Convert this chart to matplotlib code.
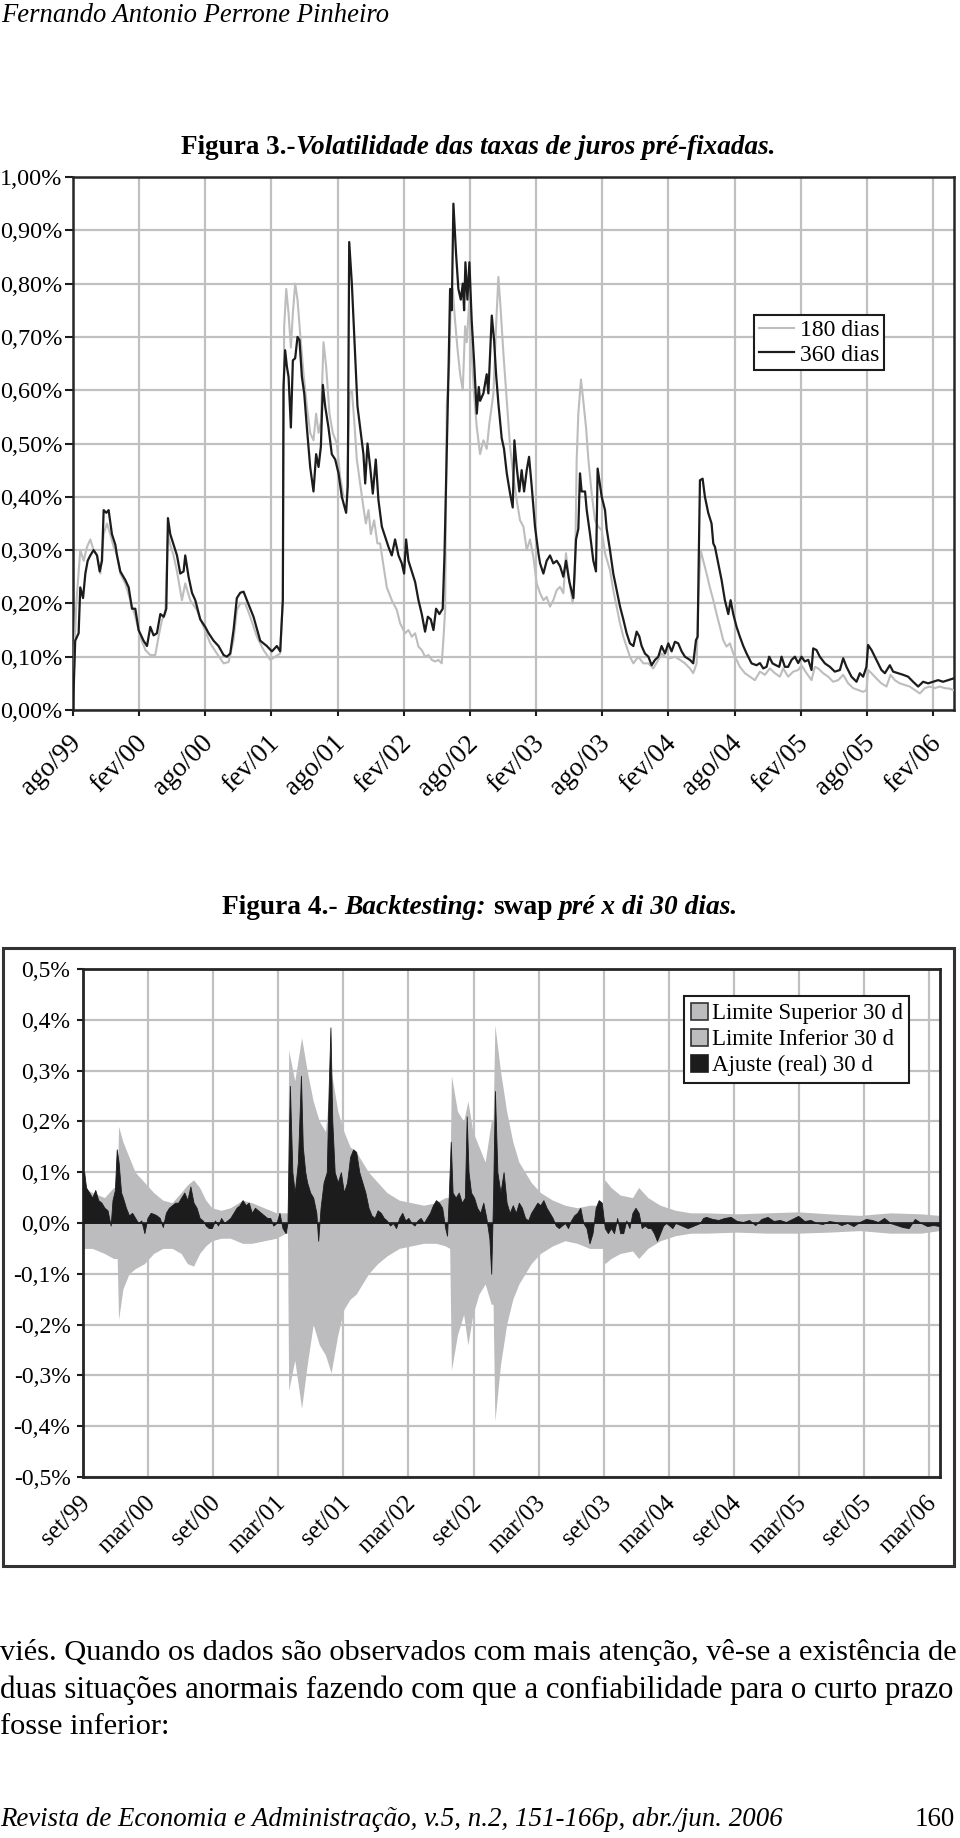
import numpy as np
import matplotlib
matplotlib.use("Agg")
import matplotlib.pyplot as plt
from matplotlib.transforms import ScaledTranslation
from matplotlib.patches import Rectangle, Patch

W, H = 960, 1838
FONT = "Liberation Serif"
plt.rcParams["font.family"] = [FONT, "DejaVu Serif"]

# ---- Figura 3: volatilidade (meses desde ago/99, valores em %) ----
meses_fig3 = ["ago/99", "fev/00", "ago/00", "fev/01", "ago/01", "fev/02", "ago/02",
              "fev/03", "ago/03", "fev/04", "ago/04", "fev/05", "ago/05", "fev/06"]

v360_x = [0.0, 0.2, 0.51, 0.66, 0.91, 1.12, 1.33, 1.57, 1.87, 2.18, 2.42, 2.63, 2.78, 3.02, 3.23, 3.53, 3.84, 3.99, 4.29, 4.74,
          5.05, 5.35, 5.65, 5.95, 6.40, 6.71, 7.01, 7.31, 7.61, 7.92, 8.22, 8.46, 8.61, 8.82, 9.12, 9.43, 9.73, 10.03, 10.18, 10.48,
          10.79, 11.09, 11.54, 11.99, 12.30, 12.75, 13.20, 13.66, 13.96, 14.26, 14.56, 14.86, 15.17, 15.47, 15.77, 16.37, 16.98, 17.58, 18.04, 18.49,
          18.79, 19.03, 19.09, 19.24, 19.40, 19.55, 19.76, 19.94, 20.15, 20.36, 20.54, 20.76, 20.97, 21.21, 21.51, 21.81, 22.05, 22.27, 22.48, 22.66,
          22.87, 23.17, 23.47, 23.78, 24.08, 24.38, 24.77, 24.92, 25.05, 25.29, 25.50, 25.80, 26.04, 26.34, 26.50, 26.71, 26.95, 27.19, 27.46, 27.70,
          28.01, 28.31, 28.61, 28.91, 29.21, 29.52, 29.82, 30.03, 30.21, 30.42, 30.73, 31.03, 31.33, 31.63, 31.93, 32.18, 32.45, 32.69, 32.93, 33.23,
          33.53, 33.69, 34.05, 34.20, 34.35, 34.50, 34.74, 34.95, 35.17, 35.35, 35.47, 35.59, 35.77, 35.95, 36.16, 36.37, 36.62, 36.80, 36.92, 37.22,
          37.52, 37.67, 37.98, 38.19, 38.37, 38.58, 38.88, 39.09, 39.34, 39.64, 39.88, 40.03, 40.24, 40.48, 40.69, 40.91, 41.15, 41.36, 41.60, 41.90,
          42.21, 42.36, 42.66, 42.96, 43.26, 43.56, 43.87, 44.17, 44.47, 44.71, 45.02, 45.38, 45.62, 45.83, 45.98, 46.13, 46.44, 46.59, 46.89, 47.19,
          47.43, 47.58, 47.95, 48.25, 48.40, 48.70, 49.00, 49.30, 49.61, 49.91, 50.21, 50.51, 50.82, 51.12, 51.36, 51.57, 51.87, 52.18, 52.48, 52.78,
          53.08, 53.38, 53.69, 53.99, 54.29, 54.59, 54.89, 55.20, 55.50, 55.95, 56.25, 56.50, 56.65, 56.74, 56.86, 57.10, 57.31, 57.61, 57.91, 58.07,
          58.22, 58.52, 58.82, 59.12, 59.43, 59.64, 59.88, 60.18, 60.48, 60.79, 61.09, 61.54, 61.99, 62.30, 62.60, 62.90, 63.14, 63.44, 63.75, 64.05,
          64.26, 64.56, 64.86, 65.17, 65.47, 65.77, 66.07, 66.37, 66.68, 66.98, 67.13, 67.43, 67.73, 68.19, 68.64, 69.09, 69.55, 69.85, 70.15, 70.60,
          71.06, 71.36, 71.66, 71.96, 72.11, 72.42, 72.72, 73.02, 73.32, 73.63, 74.08, 74.38, 74.83, 75.29, 75.74, 76.19, 76.65, 77.10, 77.55, 78.01,
          78.46, 78.91, 79.37, 79.82]
v360_y = [0.0, 0.13, 0.144, 0.23, 0.21, 0.256, 0.28, 0.29, 0.30, 0.29, 0.26, 0.28, 0.375, 0.37, 0.375, 0.33, 0.31, 0.29, 0.26, 0.244,
          0.23, 0.19, 0.19, 0.15, 0.13, 0.12, 0.156, 0.14, 0.144, 0.18, 0.175, 0.19, 0.36, 0.33, 0.31, 0.29, 0.256, 0.26, 0.29, 0.25,
          0.22, 0.206, 0.17, 0.156, 0.144, 0.13, 0.12, 0.103, 0.10, 0.106, 0.15, 0.21, 0.22, 0.222, 0.206, 0.175, 0.13, 0.12, 0.11, 0.12,
          0.11, 0.206, 0.606, 0.675, 0.644, 0.625, 0.53, 0.656, 0.66, 0.70, 0.694, 0.625, 0.594, 0.53, 0.456, 0.41, 0.48, 0.456, 0.494, 0.61,
          0.57, 0.53, 0.48, 0.47, 0.444, 0.40, 0.37, 0.42, 0.878, 0.80, 0.706, 0.57, 0.53, 0.48, 0.425, 0.50, 0.456, 0.406, 0.47, 0.394,
          0.344, 0.325, 0.306, 0.29, 0.32, 0.29, 0.275, 0.256, 0.32, 0.28, 0.26, 0.24, 0.206, 0.18, 0.147, 0.175, 0.17, 0.15, 0.19, 0.18,
          0.19, 0.29, 0.63, 0.79, 0.75, 0.95, 0.856, 0.79, 0.77, 0.80, 0.75, 0.84, 0.77, 0.84, 0.73, 0.656, 0.556, 0.606, 0.58, 0.594,
          0.63, 0.594, 0.74, 0.694, 0.63, 0.575, 0.51, 0.49, 0.444, 0.406, 0.38, 0.506, 0.456, 0.41, 0.45, 0.41, 0.45, 0.475, 0.42, 0.344,
          0.294, 0.275, 0.256, 0.28, 0.29, 0.275, 0.28, 0.27, 0.25, 0.28, 0.24, 0.21, 0.32, 0.34, 0.444, 0.41, 0.41, 0.375, 0.33, 0.28,
          0.26, 0.453, 0.40, 0.375, 0.34, 0.30, 0.256, 0.225, 0.194, 0.17, 0.144, 0.125, 0.12, 0.147, 0.138, 0.12, 0.106, 0.10, 0.084, 0.094,
          0.10, 0.12, 0.106, 0.125, 0.11, 0.128, 0.125, 0.11, 0.10, 0.094, 0.0875, 0.131, 0.1375, 0.27, 0.431, 0.434, 0.40, 0.37, 0.35, 0.3125,
          0.306, 0.275, 0.244, 0.206, 0.18, 0.206, 0.18, 0.156, 0.1375, 0.12, 0.106, 0.0875, 0.084, 0.088, 0.078, 0.081, 0.10, 0.0875, 0.084, 0.081,
          0.10, 0.081, 0.081, 0.094, 0.10, 0.088, 0.10, 0.091, 0.094, 0.075, 0.1156, 0.1125, 0.10, 0.0875, 0.081, 0.072, 0.075, 0.097, 0.081, 0.0625,
          0.053, 0.069, 0.0625, 0.081, 0.122, 0.1125, 0.10, 0.0875, 0.075, 0.069, 0.084, 0.072, 0.069, 0.066, 0.0625, 0.053, 0.044, 0.053, 0.05, 0.053,
          0.056, 0.053, 0.056, 0.059]

v180_x = [0.0, 0.15, 0.30, 0.66, 0.97, 1.27, 1.57, 1.87, 2.18, 2.48, 2.78, 3.08, 3.38, 3.69, 3.99, 4.29, 4.74, 5.20, 5.65, 6.10,
          6.56, 7.01, 7.46, 7.76, 8.07, 8.37, 8.61, 8.82, 9.12, 9.43, 9.88, 10.18, 10.63, 11.24, 11.84, 12.45, 13.05, 13.66, 14.11, 14.56,
          14.86, 15.17, 15.62, 16.07, 16.68, 17.28, 17.89, 18.34, 18.79, 19.03, 19.15, 19.34, 19.55, 19.76, 19.94, 20.15, 20.36, 20.60, 20.91, 21.21,
          21.51, 21.81, 22.05, 22.27, 22.48, 22.72, 22.96, 23.26, 23.56, 23.93, 24.23, 24.53, 24.83, 25.08, 25.29, 25.50, 25.74, 26.04, 26.34, 26.56,
          26.80, 27.01, 27.31, 27.61, 27.85, 28.16, 28.46, 28.91, 29.37, 29.67, 30.12, 30.42, 30.73, 31.03, 31.33, 31.63, 31.93, 32.24, 32.54, 32.84,
          33.14, 33.44, 33.59, 33.75, 33.90, 34.14, 34.26, 34.44, 34.65, 34.86, 35.11, 35.35, 35.56, 35.71, 35.95, 36.16, 36.37, 36.62, 36.92, 37.22,
          37.52, 37.76, 38.13, 38.37, 38.58, 38.79, 39.03, 39.34, 39.64, 39.94, 40.24, 40.54, 40.85, 41.15, 41.45, 41.75, 42.05, 42.36, 42.66, 42.96,
          43.26, 43.56, 43.87, 44.17, 44.47, 44.71, 44.92, 45.32, 45.53, 45.68, 45.83, 46.07, 46.28, 46.53, 46.74, 47.04, 47.34, 47.64, 47.95, 48.25,
          48.70, 49.00, 49.30, 49.61, 49.91, 50.21, 50.51, 50.82, 51.27, 51.72, 52.18, 52.63, 53.08, 53.38, 53.69, 54.14, 54.59, 55.05, 55.50, 55.95,
          56.25, 56.56, 56.71, 56.92, 57.16, 57.46, 57.76, 58.07, 58.37, 58.67, 58.97, 59.27, 59.58, 59.88, 60.18, 60.48, 60.94, 61.39, 61.84, 62.30,
          62.75, 63.20, 63.66, 64.11, 64.41, 64.86, 65.32, 65.77, 66.07, 66.53, 66.98, 67.28, 67.58, 68.04, 68.49, 68.94, 69.40, 69.85, 70.30, 70.76,
          71.21, 71.66, 71.96, 72.11, 72.42, 72.87, 73.32, 73.78, 74.14, 74.53, 74.98, 75.44, 75.89, 76.34, 76.80, 77.25, 77.70, 78.16, 78.61, 79.06,
          79.52, 79.82]
v180_y = [0.0, 0.12, 0.20, 0.30, 0.28, 0.306, 0.32, 0.30, 0.29, 0.256, 0.33, 0.35, 0.33, 0.306, 0.29, 0.256, 0.2375, 0.206, 0.175, 0.1375,
          0.1125, 0.103, 0.103, 0.1375, 0.169, 0.18, 0.33, 0.31, 0.29, 0.26, 0.206, 0.2375, 0.206, 0.1875, 0.156, 0.125, 0.106, 0.0875, 0.09, 0.131,
          0.1875, 0.20, 0.20, 0.175, 0.1375, 0.1125, 0.094, 0.10, 0.106, 0.206, 0.72, 0.79, 0.744, 0.68, 0.744, 0.80, 0.77, 0.706, 0.63, 0.57,
          0.52, 0.506, 0.556, 0.52, 0.54, 0.69, 0.644, 0.556, 0.52, 0.50, 0.4375, 0.40, 0.40, 0.594, 0.60, 0.544, 0.47, 0.425, 0.38, 0.35,
          0.375, 0.33, 0.356, 0.3125, 0.3125, 0.27, 0.23, 0.206, 0.1875, 0.1625, 0.144, 0.15, 0.1375, 0.144, 0.119, 0.1125, 0.10, 0.103, 0.094, 0.091,
          0.094, 0.0875, 0.131, 0.1875, 0.575, 0.656, 0.77, 0.79, 0.73, 0.68, 0.63, 0.60, 0.72, 0.69, 0.77, 0.67, 0.594, 0.53, 0.48, 0.506,
          0.49, 0.5375, 0.594, 0.72, 0.8125, 0.75, 0.67, 0.58, 0.494, 0.4375, 0.394, 0.356, 0.344, 0.30, 0.32, 0.2875, 0.2375, 0.219, 0.206, 0.212,
          0.194, 0.206, 0.225, 0.231, 0.219, 0.294, 0.256, 0.20, 0.256, 0.47, 0.556, 0.62, 0.58, 0.53, 0.47, 0.406, 0.356, 0.344, 0.3375, 0.294,
          0.2625, 0.225, 0.194, 0.1625, 0.1375, 0.119, 0.10, 0.0875, 0.10, 0.0875, 0.0875, 0.078, 0.094, 0.106, 0.10, 0.097, 0.10, 0.094, 0.0875, 0.078,
          0.069, 0.0875, 0.206, 0.30, 0.28, 0.256, 0.23, 0.206, 0.18, 0.156, 0.131, 0.119, 0.125, 0.106, 0.094, 0.081, 0.069, 0.0625, 0.056, 0.072,
          0.066, 0.078, 0.069, 0.0625, 0.078, 0.0625, 0.072, 0.075, 0.084, 0.069, 0.056, 0.081, 0.078, 0.069, 0.0625, 0.053, 0.056, 0.066, 0.05, 0.041,
          0.0375, 0.034, 0.0375, 0.075, 0.069, 0.059, 0.05, 0.044, 0.066, 0.056, 0.05, 0.047, 0.044, 0.0375, 0.031, 0.041, 0.044, 0.041, 0.044, 0.041,
          0.04, 0.0375]

# ---- Figura 4: backtesting (meses desde set/99, valores em %) ----
meses_fig4 = ["set/99", "mar/00", "set/00", "mar/01", "set/01", "mar/02", "set/02",
              "mar/03", "set/03", "mar/04", "set/04", "mar/05", "set/05", "mar/06"]

lim_x = [0.0, 0.85, 1.98, 2.83, 3.15, 3.28, 3.68, 4.24, 4.81, 5.66, 6.51, 7.36, 8.21, 9.05, 9.62, 10.19, 10.75, 11.32, 11.88, 12.73,
         13.58, 14.71, 15.56, 16.69, 17.83, 18.68, 18.85, 18.96, 19.52, 20.15, 20.66, 21.22, 21.79, 22.35, 22.87, 23.49, 24.05, 24.62, 25.18, 25.75,
         26.32, 27.16, 28.01, 29.15, 30.28, 31.41, 32.54, 33.39, 33.80, 33.96, 34.52, 35.09, 35.48, 35.94, 36.50, 37.07, 37.63, 37.80, 37.97, 38.48,
         39.05, 39.62, 40.18, 40.75, 41.31, 42.16, 43.29, 44.43, 45.56, 46.69, 47.90, 48.10, 48.67, 49.52, 50.65, 51.22, 52.07, 53.20, 54.61, 56.03,
         57.44, 60.27, 63.10, 65.93, 68.76, 71.59, 74.42, 77.25, 78.95]
lim_sup = [0.07, 0.06, 0.05, 0.07, 0.07, 0.19, 0.16, 0.13, 0.10, 0.08, 0.06, 0.045, 0.04, 0.06, 0.075, 0.085, 0.07, 0.045, 0.03, 0.025,
           0.03, 0.045, 0.04, 0.03, 0.02, 0.02, 0.02, 0.34, 0.28, 0.365, 0.30, 0.24, 0.20, 0.18, 0.30, 0.22, 0.18, 0.15, 0.14, 0.12,
           0.10, 0.08, 0.06, 0.045, 0.04, 0.035, 0.04, 0.05, 0.05, 0.29, 0.22, 0.20, 0.24, 0.18, 0.15, 0.12, 0.20, 0.20, 0.39, 0.30,
           0.22, 0.16, 0.12, 0.10, 0.08, 0.06, 0.045, 0.035, 0.03, 0.035, 0.035, 0.085, 0.07, 0.055, 0.05, 0.07, 0.05, 0.035, 0.025, 0.02,
           0.02, 0.018, 0.02, 0.022, 0.018, 0.015, 0.02, 0.018, 0.015]
lim_inf = [-0.05, -0.05, -0.06, -0.07, -0.07, -0.19, -0.13, -0.10, -0.09, -0.08, -0.06, -0.05, -0.05, -0.06, -0.08, -0.085, -0.06, -0.045, -0.035, -0.03,
           -0.03, -0.04, -0.04, -0.035, -0.03, -0.02, -0.02, -0.33, -0.27, -0.365, -0.28, -0.20, -0.24, -0.26, -0.295, -0.22, -0.17, -0.15, -0.14, -0.12,
           -0.10, -0.08, -0.065, -0.05, -0.045, -0.04, -0.04, -0.045, -0.05, -0.29, -0.22, -0.18, -0.24, -0.18, -0.14, -0.12, -0.16, -0.16, -0.39, -0.28,
           -0.20, -0.15, -0.12, -0.10, -0.08, -0.06, -0.045, -0.035, -0.04, -0.05, -0.05, -0.08, -0.07, -0.06, -0.055, -0.07, -0.05, -0.035, -0.025, -0.02,
           -0.02, -0.018, -0.02, -0.02, -0.018, -0.015, -0.02, -0.02, -0.015]

aj_x = [0.0, 0.11, 0.28, 0.57, 0.85, 1.13, 1.41, 1.70, 1.98, 2.26, 2.55, 2.72, 2.94, 3.11, 3.28, 3.51, 3.68, 3.96, 4.24, 4.53,
        4.81, 5.09, 5.38, 5.66, 5.94, 6.23, 6.51, 6.79, 7.07, 7.36, 7.64, 7.92, 8.21, 8.49, 8.77, 9.05, 9.34, 9.62, 9.90, 10.19,
        10.47, 10.75, 11.04, 11.32, 11.60, 11.88, 12.17, 12.45, 12.73, 13.02, 13.30, 13.58, 13.87, 14.15, 14.43, 14.71, 15.00, 15.28, 15.56, 15.85,
        16.13, 16.41, 16.69, 16.98, 17.26, 17.54, 17.83, 18.11, 18.39, 18.68, 18.85, 18.96, 19.07, 19.30, 19.52, 19.81, 20.09, 20.26, 20.49, 20.66,
        20.94, 21.22, 21.51, 21.68, 21.90, 22.18, 22.47, 22.64, 22.81, 22.98, 23.20, 23.49, 23.77, 24.05, 24.34, 24.62, 24.90, 25.18, 25.47, 25.75,
        26.03, 26.32, 26.60, 26.88, 27.16, 27.45, 27.73, 28.01, 28.30, 28.58, 28.86, 29.15, 29.43, 29.71, 29.99, 30.28, 30.56, 30.84, 31.13, 31.41,
        31.69, 31.98, 32.26, 32.54, 32.82, 33.11, 33.39, 33.56, 33.73, 33.90, 34.07, 34.35, 34.64, 34.92, 35.20, 35.37, 35.54, 35.77, 36.05, 36.33,
        36.62, 36.90, 37.18, 37.46, 37.63, 37.80, 37.97, 38.20, 38.48, 38.77, 39.05, 39.33, 39.62, 39.90, 40.18, 40.46, 40.75, 41.03, 41.31, 41.60,
        41.88, 42.16, 42.44, 42.73, 43.01, 43.29, 43.58, 43.86, 44.14, 44.43, 44.71, 44.99, 45.27, 45.56, 45.84, 46.12, 46.41, 46.69, 46.97, 47.26,
        47.54, 47.82, 48.10, 48.39, 48.67, 48.95, 49.24, 49.52, 49.80, 50.08, 50.37, 50.65, 50.93, 51.22, 51.50, 51.78, 52.07, 52.35, 52.63, 52.91,
        53.20, 53.48, 53.76, 54.05, 54.33, 54.61, 55.18, 55.74, 56.31, 56.88, 57.16, 57.44, 58.01, 58.57, 59.14, 59.71, 60.27, 60.84, 61.40, 61.97,
        62.54, 63.10, 63.67, 64.23, 64.80, 65.37, 65.93, 66.50, 67.06, 67.63, 68.19, 68.76, 69.33, 69.89, 70.46, 71.02, 71.59, 72.16, 72.72, 73.29,
        73.85, 74.42, 74.99, 75.55, 76.12, 76.68, 77.25, 77.82, 78.38, 78.95]
aj_y = [0.10, 0.10, 0.07, 0.06, 0.05, 0.065, 0.045, 0.04, 0.03, 0.025, -0.005, 0.045, 0.065, 0.145, 0.12, 0.06, 0.05, 0.03, 0.015, 0.02,
        0.01, 0.0, 0.005, -0.02, 0.01, 0.02, 0.018, 0.015, 0.01, -0.008, 0.02, 0.03, 0.035, 0.04, 0.04, 0.05, 0.06, 0.045, 0.072, 0.04,
        0.03, 0.01, 0.005, -0.005, -0.01, -0.01, 0.005, -0.005, 0.01, 0.0, 0.005, 0.01, 0.02, 0.03, 0.035, 0.045, 0.035, 0.04, 0.02, 0.03,
        0.025, 0.02, 0.015, 0.01, 0.01, -0.005, 0.0, 0.02, -0.01, -0.02, 0.0, 0.15, 0.27, 0.10, 0.06, 0.12, 0.29, 0.15, 0.10, 0.08,
        0.06, 0.05, 0.02, -0.035, 0.03, 0.08, 0.10, 0.26, 0.385, 0.20, 0.10, 0.08, 0.10, 0.06, 0.08, 0.13, 0.145, 0.14, 0.10, 0.08,
        0.06, 0.03, 0.015, 0.01, 0.025, 0.02, 0.01, 0.005, -0.005, 0.0, -0.01, 0.01, 0.02, 0.005, 0.01, 0.0, -0.005, 0.005, 0.01, 0.0,
        0.01, 0.02, 0.035, 0.045, 0.04, 0.03, -0.01, -0.025, 0.06, 0.16, 0.06, 0.05, 0.06, 0.04, 0.05, 0.21, 0.10, 0.06, 0.05, 0.03,
        0.02, 0.04, 0.01, -0.03, -0.10, 0.05, 0.26, 0.10, 0.06, 0.10, 0.04, 0.02, 0.035, 0.02, 0.04, 0.03, 0.01, 0.005, 0.02, 0.03,
        0.04, 0.035, 0.045, 0.03, 0.02, 0.01, -0.005, -0.01, -0.005, 0.0, -0.01, 0.005, 0.015, 0.02, 0.03, 0.0, -0.01, -0.04, -0.02, 0.03,
        0.045, 0.04, -0.01, -0.02, -0.01, -0.02, 0.01, -0.02, -0.02, 0.005, -0.01, 0.02, 0.03, 0.02, -0.01, -0.005, -0.01, -0.01, -0.02, -0.035,
        -0.02, -0.005, 0.0, -0.005, -0.01, 0.0, -0.005, -0.01, -0.005, 0.0, 0.01, 0.012, 0.008, 0.006, 0.01, 0.012, 0.004, 0.002, 0.006, -0.004,
        0.008, 0.012, 0.004, 0.006, 0.002, 0.008, 0.014, 0.004, 0.006, 0.0, -0.002, 0.004, 0.002, -0.004, 0.0, -0.006, 0.002, 0.008, 0.006, 0.002,
        0.01, 0.0, -0.004, -0.008, -0.01, 0.008, 0.0, -0.006, -0.004, -0.006]

assert len(v360_x) == len(v360_y), (len(v360_x), len(v360_y))
assert len(v180_x) == len(v180_y), (len(v180_x), len(v180_y))
assert len(lim_x) == len(lim_sup) == len(lim_inf)
assert len(aj_x) == len(aj_y), (len(aj_x), len(aj_y))

GRAY_LINE = "#bdbdbd"
GRID = "#c0c0c0"
DARK = "#1c1c1c"
BAND = "#bcbcbe"

fig = plt.figure(figsize=(W / 100, H / 100), dpi=100)
renderer = fig.canvas.get_renderer()


def fx(px):
    return px / W


def fy(py):
    return 1 - py / H


def runs_text(runs, y_px, size, width_px=None, left_px=None, center_px=None, right_px=None):
    # runs: (texto, estilo, peso, espaço antes)
    objs = []
    for s, style, weight, _ in runs:
        objs.append(fig.text(0, fy(y_px), s, fontsize=size, fontstyle=style, fontweight=weight,
                             va="center", ha="left", family=FONT))

    def measure():
        ws = [o.get_window_extent(renderer).width for o in objs]
        sp = 0.25 * objs[0].get_fontsize() * 100 / 72
        return ws, sp

    ws, sp = measure()
    total = sum(ws) + sp * sum(r[3] for r in runs)
    if width_px:
        k = width_px / total
        for o in objs:
            o.set_fontsize(o.get_fontsize() * k)
        ws, sp = measure()
        total = sum(ws) + sp * sum(r[3] for r in runs)
    if center_px is not None:
        x = center_px - total / 2
    elif right_px is not None:
        x = right_px - total
    else:
        x = left_px
    for o, w, r in zip(objs, ws, runs):
        x += sp * r[3]
        o.set_x(fx(x))
        x += w
    return objs


def offset_labels(ax, dx_px, dy_px):
    for lbl in ax.get_xticklabels():
        lbl.set_transform(lbl.get_transform() + ScaledTranslation(dx_px / 100, -dy_px / 100, fig.dpi_scale_trans))


# ---------------- page text ----------------
runs_text([("Fernando Antonio Perrone Pinheiro", "italic", "normal", 0)], 15, 18, width_px=388, left_px=1)
runs_text([("Figura 3.-", "normal", "bold", 0),
           ("Volatilidade das taxas de juros pré-fixadas.", "italic", "bold", 0)],
          148, 18, width_px=595, center_px=478)
runs_text([("Figura 4.-", "normal", "bold", 0), ("Backtesting:", "italic", "bold", 1),
           ("swap", "normal", "bold", 1), ("pré x di 30 dias.", "italic", "bold", 1)],
          908, 18, width_px=517, center_px=480)

l1 = runs_text([("viés. Quando os dados são observados com mais atenção, vê-se a existência de",
                 "normal", "normal", 0)], 1653, 20, width_px=955, left_px=0)
runs_text([("duas situações anormais fazendo com que a confiabilidade para o curto prazo",
            "normal", "normal", 0)], 1690, 20, width_px=955, left_px=0)
runs_text([("fosse inferior:", "normal", "normal", 0)], 1727, l1[0].get_fontsize(), left_px=0)
ft = runs_text([("Revista de Economia e Administração, v.5, n.2, 151-166p, abr./jun. 2006",
                 "italic", "normal", 0)], 1820, 18, width_px=783, left_px=0)
runs_text([("160", "normal", "normal", 0)], 1820, ft[0].get_fontsize(), right_px=955)

# ---------------- Figura 3 ----------------
ax1 = fig.add_axes([fx(73), fy(710), (954 - 73) / W, (710 - 177) / H])
ax1.plot(v180_x, v180_y, color=GRAY_LINE, lw=1.5, label="180 dias", zorder=3)
ax1.plot(v360_x, v360_y, color=DARK, lw=1.6, label="360 dias", zorder=4)
ax1.set_xlim(0, 79.9)
ax1.set_ylim(0, 1.0)
ax1.set_xticks(np.arange(0, 79, 6))
ax1.set_xticklabels(meses_fig3, rotation=45, ha="right", va="center", rotation_mode="anchor")
yt1 = np.arange(0, 1.01, 0.1)
ax1.set_yticks(yt1)
ax1.set_yticklabels([f"{v:.2f}".replace(".", ",") + "%" for v in yt1])
ax1.set_axisbelow(True)
ax1.grid(True, color=GRID, lw=1.6)
ax1.tick_params(axis="y", length=6, width=1.5, color=DARK, pad=1.5, labelsize=17.5)
ax1.tick_params(axis="x", length=4, width=1.5, color=DARK, pad=0, labelsize=19.5)
for sp in ax1.spines.values():
    sp.set_color("#262626")
    sp.set_linewidth(1.8)
offset_labels(ax1, 4, 24)
leg1 = ax1.legend(loc="upper left", bbox_to_anchor=(fx(754), fy(315)), bbox_transform=fig.transFigure,
                  fancybox=False, edgecolor=DARK, framealpha=1, borderaxespad=0, fontsize=17,
                  handlelength=1.5, handletextpad=0.25, borderpad=0.2, labelspacing=0.12)
leg1.get_frame().set_linewidth(1.5)

# ---------------- Figura 4 ----------------
fig.add_artist(Rectangle((fx(3), fy(1566)), 951 / W, (1566 - 948) / H, transform=fig.transFigure,
                         fill=False, ec="#333333", lw=2.2))
ax2 = fig.add_axes([fx(83), fy(1477), (940 - 83) / W, (1477 - 969) / H])
ax2.fill_between(lim_x, lim_inf, lim_sup, color=BAND, lw=0, zorder=2)
ax2.fill_between(aj_x, 0, aj_y, color=DARK, lw=0.6, edgecolor=DARK, zorder=3)
ax2.axhline(0, color=DARK, lw=1.2, zorder=4)
ax2.set_xlim(0, 79.0)
ax2.set_ylim(-0.5, 0.5)
ax2.set_xticks(np.arange(0, 79, 6))
ax2.set_xticklabels(meses_fig4, rotation=45, ha="right", va="center", rotation_mode="anchor")
yt2 = np.round(np.arange(-0.5, 0.51, 0.1), 1)
ax2.set_yticks(yt2)
ax2.set_yticklabels([f"{v:.1f}".replace(".", ",").replace("-0,0", "0,0") + "%" for v in yt2])
ax2.set_axisbelow(True)
ax2.grid(True, color=GRID, lw=1.6)
ax2.tick_params(axis="y", length=4, width=1.5, color=DARK, pad=5, labelsize=17)
ax2.tick_params(axis="x", length=0, pad=0, labelsize=18)
for sp in ax2.spines.values():
    sp.set_color("#262626")
    sp.set_linewidth(2)
offset_labels(ax2, 4, 23)
handles2 = [Patch(facecolor=BAND, edgecolor="#333333", lw=1.2),
            Patch(facecolor=BAND, edgecolor="#333333", lw=1.2),
            Patch(facecolor=DARK, edgecolor=DARK, lw=1.2)]
leg2 = ax2.legend(handles2, ["Limite Superior 30 d", "Limite Inferior 30 d", "Ajuste (real) 30 d"],
                  loc="upper left", bbox_to_anchor=(fx(684), fy(996)), bbox_transform=fig.transFigure,
                  fancybox=False, edgecolor=DARK, framealpha=1, borderaxespad=0, fontsize=16.5,
                  handlelength=0.75, handleheight=0.75, handletextpad=0.15, borderpad=0.3, labelspacing=0.2)
leg2.get_frame().set_linewidth(1.5)

fig.savefig("out.png", dpi=100, facecolor="white")
